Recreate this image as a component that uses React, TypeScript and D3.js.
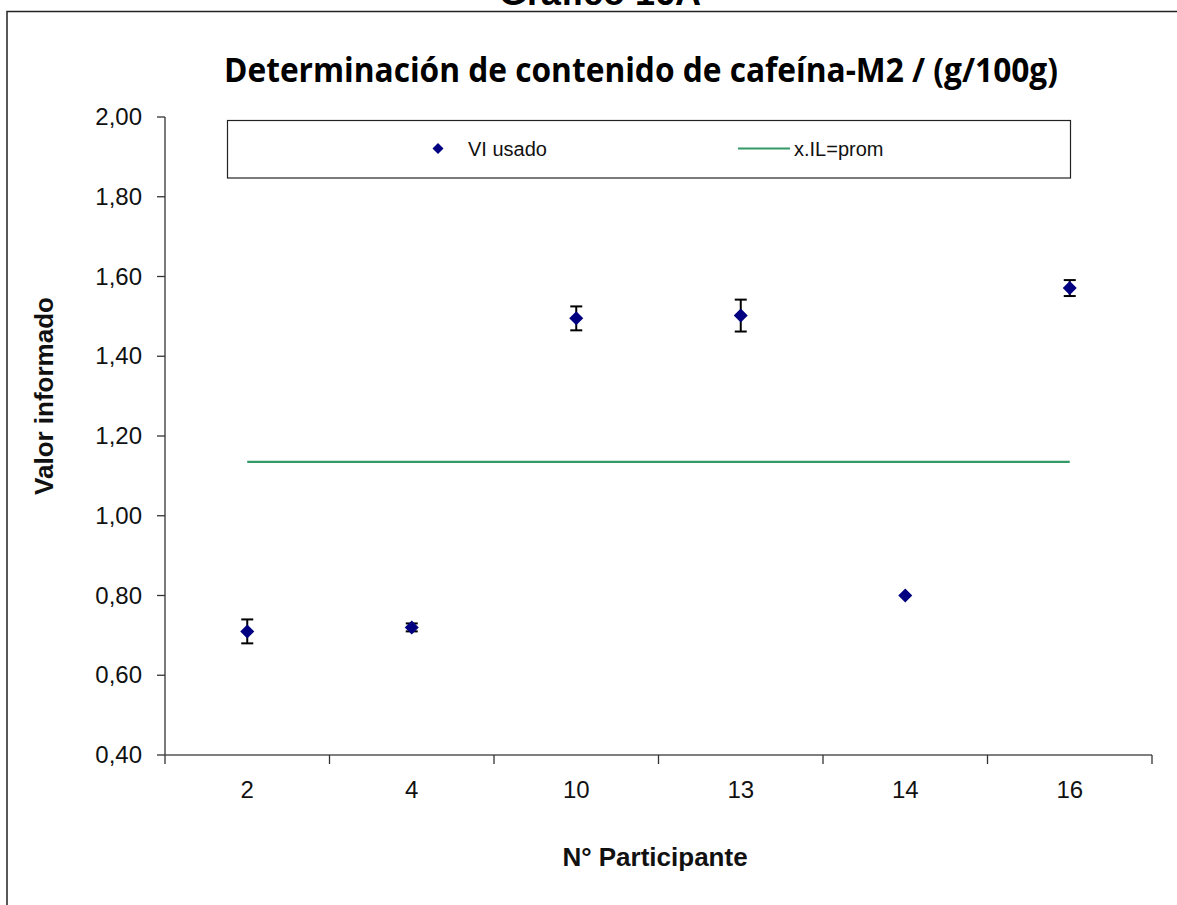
import React from "react";
import * as d3 from "d3";

const participants = ["2", "4", "10", "13", "14", "16"];
const reportedValues = [0.71, 0.72, 1.495, 1.502, 0.8, 1.571];
const errorValues = [0.03, 0.01, 0.03, 0.04, 0, 0.02];
const meanValue = 1.135;
const yTicks = [0.4, 0.6, 0.8, 1.0, 1.2, 1.4, 1.6, 1.8, 2.0];
const legendLabels = ["VI usado", "x.IL=prom"];

const W = 1177;
const H = 905;
const left = 165;
const right = 1152;
const top = 117;
const bottom = 755;

export default function App() {
  const x = d3.scaleBand<string>().domain(participants).range([left, right]).padding(0);
  const y = d3.scaleLinear().domain([0.4, 2.0]).range([bottom, top]);
  const fmt = (v: number) => d3.format(".2f")(v).replace(".", ",");
  const cx = (p: string) => (x(p) as number) + x.bandwidth() / 2;
  const diamond = (px: number, py: number, r: number) =>
    `M${px},${py - r}L${px + r},${py}L${px},${py + r}L${px - r},${py}Z`;
  const meanLine = d3.line<string>().x((p) => cx(p)).y(() => y(meanValue));
  const boundaries = participants.map((p) => x(p) as number).concat([right]);

  return (
    <svg width={W} height={H} style={{ position: "absolute", left: 0, top: 0, background: "#fff" }}>
      <rect x={0} y={0} width={W} height={H} fill="#fff" />
      <text x={600} y={5} textAnchor="middle" fontFamily="Liberation Sans, Arial, sans-serif" fontWeight="bold" fontSize={36}>
        Gráfico 16A
      </text>
      <path d={`M7,${H}V11.5H${W}`} fill="none" stroke="#222" strokeWidth={1.5} />
      <text x={641} y={82} textAnchor="middle" fontFamily="Open Sans, Liberation Sans, sans-serif" fontWeight="bold" fontSize={34} textLength={834} lengthAdjust="spacingAndGlyphs">
        Determinación de contenido de cafeína-M2 / (g/100g)
      </text>
      {/* legend */}
      <rect x={227.5} y={120.5} width={843} height={57.5} fill="#fff" stroke="#222" strokeWidth={1.2} />
      <path d={diamond(438, 148.5, 5.5)} fill="#000080" />
      <text x={468} y={156} fontFamily="Liberation Sans, Arial, sans-serif" fontSize={20} fill="#111">{legendLabels[0]}</text>
      <line x1={738} x2={790} y1={148.5} y2={148.5} stroke="#339966" strokeWidth={2} />
      <text x={794} y={156} fontFamily="Liberation Sans, Arial, sans-serif" fontSize={20} fill="#111">{legendLabels[1]}</text>
      {/* y axis */}
      <line x1={left} x2={left} y1={top} y2={bottom} stroke="#333" strokeWidth={1.3} />
      {yTicks.map((t) => (
        <g key={t}>
          <line x1={left - 8} x2={left} y1={y(t)} y2={y(t)} stroke="#333" strokeWidth={1.3} />
          <text x={142} y={y(t) + 8} textAnchor="end" fontFamily="Liberation Sans, Arial, sans-serif" fontSize={24} fill="#111">
            {fmt(t)}
          </text>
        </g>
      ))}
      {/* x axis */}
      <line x1={left} x2={right} y1={bottom} y2={bottom} stroke="#555" strokeWidth={1.6} />
      {boundaries.map((b, i) => (
        <line key={i} x1={b} x2={b} y1={bottom} y2={bottom + 9} stroke="#333" strokeWidth={1.3} />
      ))}
      {participants.map((p) => (
        <text key={p} x={cx(p)} y={798} textAnchor="middle" fontFamily="Liberation Sans, Arial, sans-serif" fontSize={24} fill="#111">
          {p}
        </text>
      ))}
      {/* mean line */}
      <path d={meanLine(participants) || ""} fill="none" stroke="#339966" strokeWidth={2.2} />
      {/* error bars and points */}
      {participants.map((p, i) => {
        const e = errorValues[i];
        const px = cx(p);
        return e > 0 ? (
          <g key={"e" + p} stroke="#000" strokeWidth={2} fill="none">
            <line x1={px} x2={px} y1={y(reportedValues[i] + e)} y2={y(reportedValues[i] - e)} />
            <line x1={px - 6} x2={px + 6} y1={y(reportedValues[i] + e)} y2={y(reportedValues[i] + e)} />
            <line x1={px - 6} x2={px + 6} y1={y(reportedValues[i] - e)} y2={y(reportedValues[i] - e)} />
          </g>
        ) : null;
      })}
      {participants.map((p, i) => (
        <path key={"d" + p} d={diamond(cx(p), y(reportedValues[i]), 7)} fill="#000080" />
      ))}
      {/* axis titles */}
      <text transform={`translate(53,396) rotate(-90)`} textAnchor="middle" fontFamily="Liberation Sans, Arial, sans-serif" fontWeight="bold" fontSize={26} fill="#111">
        Valor informado
      </text>
      <text x={655} y={866} textAnchor="middle" fontFamily="Liberation Sans, Arial, sans-serif" fontWeight="bold" fontSize={26} fill="#111">
        N° Participante
      </text>
    </svg>
  );
}
